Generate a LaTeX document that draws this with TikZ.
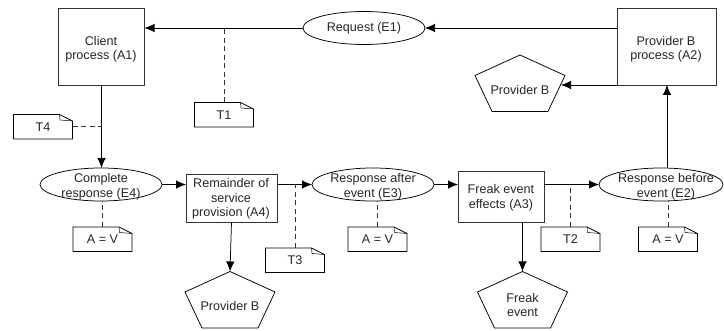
\documentclass[tikz,border=0pt]{standalone}
\usepackage{fontspec}
\setmainfont{Liberation Sans}
\usetikzlibrary{arrows.meta,shapes.geometric}
\tikzset{
  x=1pt,y=-1pt,
  every node/.style={font=\fontsize{12.6}{14.5}\selectfont,text=black!85,align=center,inner sep=0pt,outer sep=0pt},
  activity/.style={draw=black!80,line width=.85pt,rectangle,anchor=center},
  event/.style={draw=black,line width=.75pt,ellipse,anchor=center,minimum width=122pt,minimum height=33pt},
  flow/.style={draw=black,line width=.75pt,-{Latex[length=10pt,width=8.5pt]}},
  link/.style={draw=black!80,line width=.75pt,dash pattern=on 5pt off 3.5pt},
  agentshape/.style={draw=black,line width=.75pt,line join=miter},
  noteshape/.style={draw=black,line width=.75pt},
}
% #1 name, #2 left, #3 top, #4 text
\newcommand{\notebox}[4]{%
  \path[noteshape,draw] (#2,#3) -- ++(46,0) -- ++(6,3) -- ++(7,3.5) -- ++(0,18) -- ++(-59,0) -- cycle;
  \draw[noteshape,line width=.5pt] (#2+46,#3) -- ++(0.5,5.5) -- ++(12.5,1);
  \node[minimum width=59pt,minimum height=24.5pt] (#1) at (#2+29.5,#3+12.25) {#4};
}
% #1 name, #2 apex x, #3 apex y
\newcommand{\pentagonshape}[3]{%
  \draw[agentshape] (#2,#3) -- ++(45,20.5) -- ++(-17,36) -- ++(-56,0) -- ++(-17,-36) -- cycle;
  \coordinate (#1) at (#2,#3);
}
\begin{document}
\begin{tikzpicture}
\useasboundingbox (0,0) rectangle (724,331);
% activities
\node[activity,minimum width=86pt,minimum height=77pt] (A1) at (101.5,46.5) {};
\node (A1t) at (101,49) {Client\\process (A1)};
\node[activity,minimum width=98.5pt,minimum height=77pt] (A2) at (667,46.5) {};
\node (A2t) at (666,49) {Provider B\\process (A2)};
\node[activity,minimum width=91pt,minimum height=48pt] (A4) at (231.5,198) {};
\node (A4t) at (231,199) {Remainder of\\service\\provision (A4)};
\node[activity,minimum width=86pt,minimum height=51pt] (A3) at (501,196.5) {};
\node (A3t) at (501,197.5) {Freak event\\effects (A3)};
% events
\node[event] (E1) at (364,28) {};
\node (E1t) at (364,28) {Request (E1)};
\node[event] (E4) at (101,184.5) {};
\node (E4t) at (101,186.5) {Complete\\response (E4)};
\node[event] (E3) at (373,184.5) {};
\node (E3t) at (373,186.5) {Response after\\event (E3)};
\node[event,minimum width=124pt] (E2) at (661,184.5) {};
\node (E2t) at (666,186.5) {Response before\\event (E2)};
% agents
\pentagonshape{P1}{520}{55}
\node (P1t) at (520,90) {Provider B};
\pentagonshape{P2}{230}{271.5}
\node (P2t) at (230,306) {Provider B};
\pentagonshape{P3}{522.5}{271.5}
\node (P3t) at (522.5,305) {Freak\\event};
\coordinate (P1r) at (561,85);
% notes
\notebox{T1}{194.5}{102.5}{T1}
\notebox{T4}{13.5}{114.5}{T4}
\notebox{T3}{265.5}{248}{T3}
\notebox{T2}{541}{227}{T2}
\notebox{V4}{73}{227}{A = V}
\notebox{V3}{348}{227}{A = V}
\notebox{V2}{638.5}{227}{A = V}
% flows
\draw[flow] (E1) -- (A1.east |- E1);
\draw[flow] (A2.west |- E1) -- (E1);
\draw[flow] (A2.south west) -- (P1r);
\draw[flow] (A2.south |- E2.north) -- (A2.south);
\draw[flow] (A1.south) -- (A1.south |- E4.north);
\draw[flow] (E4) -- (A4.west |- E4);
\draw[flow] (A4.east |- E3) -- (E3);
\draw[flow] (E3) -- (A3.west |- E3);
\draw[flow] (A3.east |- E2) -- (E2);
\draw[flow] (A4.south) -- (P2);
\draw[flow] (A3.south -| P3) -- (P3);
% dashed links
\draw[link] (T1.north) -- (T1.north |- E1);
\draw[link] (T4.east) -- (T4.east -| A1.south);
\draw[link] (T3.north) -- (T3.north |- E3);
\draw[link] (T2.north) -- (T2.north |- E2);
\draw[link] (V4.north) -- (V4.north |- E4.south);
\draw[link] (V3.north) -- (V3.north |- E3.south);
\draw[link] (V2.north) -- (V2.north |- E2.south);
\end{tikzpicture}
\end{document}
